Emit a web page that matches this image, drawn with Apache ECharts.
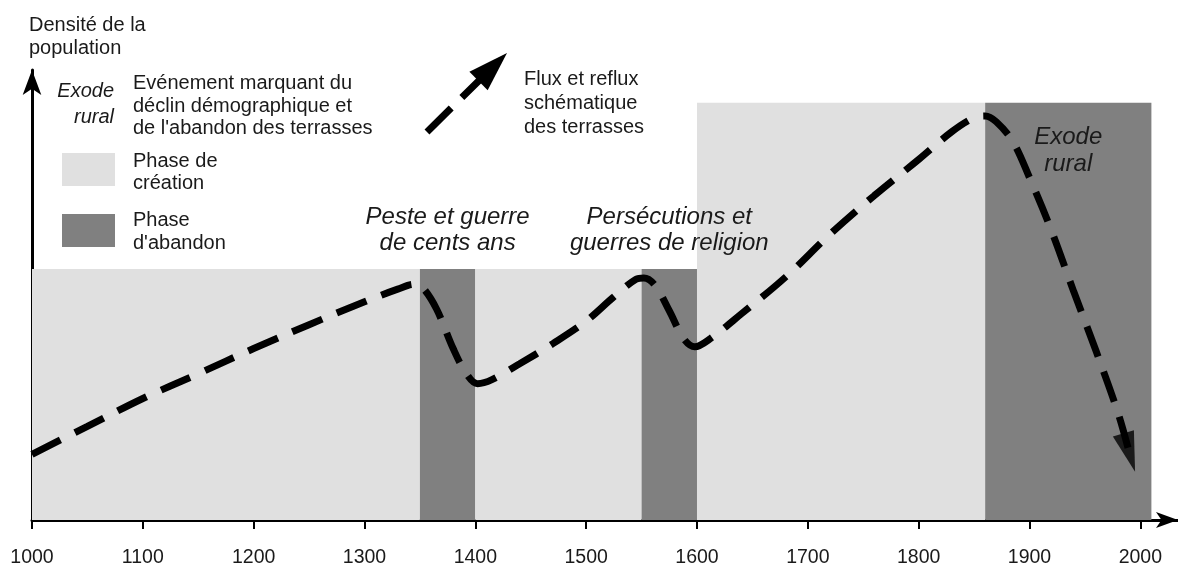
<!DOCTYPE html>
<html><head><meta charset="utf-8">
<script src="https://cdn.jsdelivr.net/npm/echarts@6/dist/echarts.min.js"></script>
<style>html,body{margin:0;padding:0;background:#fff}#c{width:1178px;height:568px}</style>
</head><body><div id="c"></div>
<script>
// ---- data ----
const tickYears = [1000,1100,1200,1300,1400,1500,1600,1700,1800,1900,2000];
const phaseStart = [1000,1350,1400,1550,1600,1860];
const phaseEnd   = [1350,1400,1550,1600,1860,2010];
const phaseTop   = [55.8,55.8,55.8,55.8,92.7,92.7];
const phaseKind  = ['création','abandon','création','abandon','création','abandon'];
const phaseEvent = ['', 'Peste et guerre\nde cents ans', '', 'Persécutions et\nguerres de religion', '', 'Exode\nrural'];
const curveYears  = [1000,1050,1100,1150,1200,1250,1300,1330,1345,1352,1365,1380,1392,1402,1415,1440,1470,1500,1525,1545,1552,1562,1575,1588,1598,1612,1640,1680,1720,1760,1800,1830,1850,1860,1870,1885,1900,1920,1940,1960,1980,1990];
const curveValues = [14.6,20.8,27.0,32.5,38.1,43.4,48.5,51.3,52.4,51.8,46.9,38.1,32.5,30.3,31.2,34.7,39.2,44.2,49.6,53.5,53.8,52.2,46.5,40.3,38.5,40.3,45.8,54.0,63.5,72.1,80.1,86.3,89.4,89.8,88.5,84.1,76.1,64.2,50.7,37.6,23.7,15.0];
const arrowYears  = [1990];
const arrowValues = [15.0];

const FF = '"Liberation Sans", Arial, Helvetica, sans-serif';
const TXT = '#1a1a1a';
const kindColor = {'création':'#e0e0e0','abandon':'#808080'};

const areas = phaseStart.map((s,i)=>{
  const lab = phaseEvent[i];
  const inside = i === 5;
  return [
    {name:lab, xAxis:s, yAxis:0, itemStyle:{color:kindColor[phaseKind[i]], opacity:1, borderWidth:0},
     label:{show: !!lab, position: inside ? 'insideTop' : 'top', distance: inside ? 21 : 13,
            fontStyle:'italic', fontSize:24, fontFamily:FF, color:TXT, lineHeight: inside ? 27 : 26, align:'center'}},
    {xAxis:phaseEnd[i], yAxis:phaseTop[i]}
  ];
});

function line(x,y,t,italic,align){
  return {type:'text', x:x, y:y, silent:true, style:{text:t, fill:TXT,
    font:(italic?'italic ':'')+'20px '+FF, align:align||'left', textAlign:align||'left',
    verticalAlign:'middle', textVerticalAlign:'middle'}};
}
// legend arrow geometry
const tip=[507,53], tail=[427,132];
const ux=(tip[0]-tail[0]), uy=(tip[1]-tail[1]); const L=Math.hypot(ux,uy);
const dx=ux/L, dy=uy/L; const base=[tip[0]-40*dx, tip[1]-40*dy]; const px=-dy, py=dx;

const graphics = [
  line(29,25,'Densité de la'), line(29,48,'population'),
  line(114,91,'Exode',true,'right'), line(114,117,'rural',true,'right'),
  line(133,83,'Evénement marquant du'), line(133,106,'déclin démographique et'), line(133,128,"de l'abandon des terrasses"),
  {type:'rect', shape:{x:62,y:153,width:53,height:33}, style:{fill:'#e0e0e0'}, silent:true},
  line(133,161,'Phase de'), line(133,183,'création'),
  {type:'rect', shape:{x:62,y:214,width:53,height:33}, style:{fill:'#808080'}, silent:true},
  line(133,220,'Phase'), line(133,243,"d'abandon"),
  {type:'line', shape:{x1:tail[0],y1:tail[1],x2:base[0]+4*dx,y2:base[1]+4*dy}, silent:true,
   style:{stroke:'#000', lineWidth:7, lineDash:[34,15], lineCap:'butt'}},
  {type:'polygon', shape:{points:[tip,[base[0]+13*px,base[1]+13*py],[base[0]-13*px,base[1]-13*py]]}, style:{fill:'#000'}, silent:true},
  line(524,79,'Flux et reflux'), line(524,103,'schématique'), line(524,127,'des terrasses')
];

const chart = echarts.init(document.getElementById('c'), null, {renderer:'canvas'});
chart.setOption({
  animation:false,
  backgroundColor:'#fff',
  grid:{left:32, right:0, top:70, bottom:46, containLabel:false},
  xAxis:{type:'value', min:1000, max:2034,
    axisLine:{show:true, onZero:false, symbol:['none','arrow'], symbolSize:[12,22], lineStyle:{color:'#000', width:3}},
    axisTick:{show:true, customValues:tickYears, length:9, lineStyle:{color:'#000', width:2}},
    axisLabel:{show:true, customValues:tickYears, fontSize:19.5, fontFamily:FF, color:TXT, margin:28,
      formatter:v=>String(v)},
    splitLine:{show:false}},
  yAxis:{type:'value', min:0, max:100,
    axisLine:{show:true, onZero:false, symbol:['none','arrow'], symbolSize:[14,25], lineStyle:{color:'#000', width:3}},
    axisTick:{show:false}, axisLabel:{show:false}, splitLine:{show:false}},
  graphic:graphics,
  series:[
    {type:'line', name:'phases', data:[], z:1, silent:true,
     markArea:{silent:true, data:areas}},
    {type:'line', name:'flux', z:3, silent:true, smooth:0.35, showSymbol:false, symbol:'none',
     data:curveYears.map((y,i)=>[y,curveValues[i]]),
     lineStyle:{color:'#000', width:7, type:[32,16], cap:'butt'}},
    {type:'scatter', name:'fin', z:4, silent:true, symbol:'triangle', symbolSize:[22,40], symbolRotate:197,
     itemStyle:{color:'#000'}, data:arrowYears.map((y,i)=>[y,arrowValues[i]])}
  ]
});
</script></body></html>
